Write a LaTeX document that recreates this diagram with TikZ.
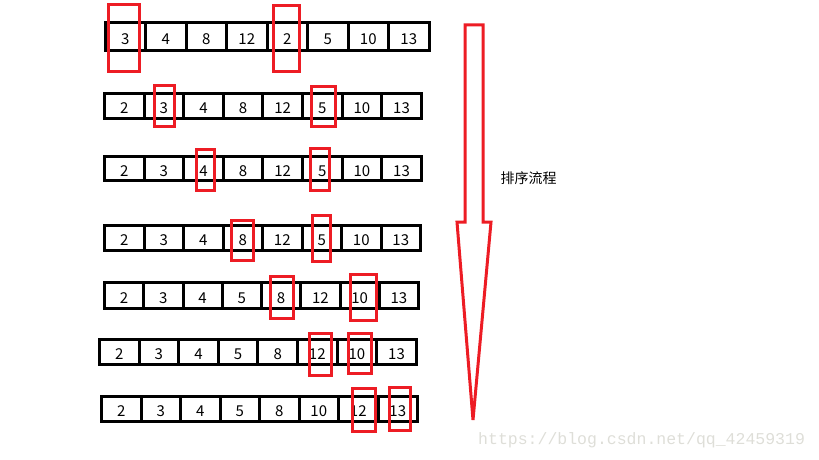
\documentclass[tikz,border=0pt]{standalone}
\usepackage{fontspec}
\setmainfont{Noto Sans CJK SC}
\newfontfamily\wmfont{Liberation Mono}
\usepackage{tikz}
\definecolor{paintred}{RGB}{237,28,36}
\definecolor{wmgray}{RGB}{222,222,216}

\begin{document}
\begin{tikzpicture}[x=1pt, y=-1pt,
    cell/.style={draw, line width=3pt, outer sep=0pt, inner sep=0pt,
                 text height=15pt, text depth=0pt, font=\fontsize{15}{15}\selectfont},
    hilite/.style={draw=paintred, line width=3pt, inner sep=0pt},
    flow/.style={draw=paintred, line width=3pt, line join=miter}]
    \useasboundingbox (0,0) rectangle (819,460);

    % Rows of the array {r1, r2, ..., r7}
    \foreach \v [count=\i] in {3,4,8,12,2,5,10,13}
        \node [cell, minimum width=40.5, minimum height=28]  (r1c\i) at (105+\i*40.5-20.25, 37)    {\v};
    \foreach \v [count=\i] in {2,3,4,8,12,5,10,13}
        \node [cell, minimum width=39.6, minimum height=25]  (r2c\i) at (104.5+\i*39.6-19.8, 106)  {\v};
    \foreach \v [count=\i] in {2,3,4,8,12,5,10,13}
        \node [cell, minimum width=39.6, minimum height=24]  (r3c\i) at (104.5+\i*39.6-19.8, 168.5) {\v};
    \foreach \v [count=\i] in {2,3,4,8,12,5,10,13}
        \node [cell, minimum width=39.5, minimum height=25]  (r4c\i) at (104.5+\i*39.5-19.75, 238) {\v};
    \foreach \v [count=\i] in {2,3,4,5,8,12,10,13}
        \node [cell, minimum width=39.25, minimum height=26] (r5c\i) at (104.5+\i*39.25-19.625, 295.5) {\v};
    \foreach \v [count=\i] in {2,3,4,5,8,12,10,13}
        \node [cell, minimum width=39.6, minimum height=25]  (r6c\i) at (99.5+\i*39.6-19.8, 352)   {\v};
    \foreach \v [count=\i] in {2,3,4,5,8,10,12,13}
        \node [cell, minimum width=39.5, minimum height=25]  (r7c\i) at (101.5+\i*39.5-19.75, 409) {\v};

    % Marked pairs
    \node [hilite, minimum width=31, minimum height=67] (h1a) at (124, 38)     {};
    \node [hilite, minimum width=26, minimum height=66] (h1b) at (286.5, 38.5) {};
    \node [hilite, minimum width=20, minimum height=41] (h2a) at (164.5, 106)  {};
    \node [hilite, minimum width=24, minimum height=40] (h2b) at (323.5, 106.5) {};
    \node [hilite, minimum width=18, minimum height=41] (h3a) at (205.5, 170)  {};
    \node [hilite, minimum width=19, minimum height=42] (h3b) at (320, 169.5)  {};
    \node [hilite, minimum width=22, minimum height=40] (h4a) at (242.5, 240.5) {};
    \node [hilite, minimum width=18, minimum height=46] (h4b) at (321.5, 238.5) {};
    \node [hilite, minimum width=23, minimum height=42] (h5a) at (282, 297.5)  {};
    \node [hilite, minimum width=26, minimum height=46] (h5b) at (363.5, 297.5) {};
    \node [hilite, minimum width=22, minimum height=42] (h6a) at (320.5, 354.5) {};
    \node [hilite, minimum width=23, minimum height=40] (h6b) at (360, 353.5)  {};
    \node [hilite, minimum width=23, minimum height=43] (h7a) at (364, 410)    {};
    \node [hilite, minimum width=21, minimum height=43] (h7b) at (400, 409)    {};

    % Big arrow and its label
    \draw [flow] (465,25) -- (483,25) -- (483,222) -- (491,222) -- (473,420)
                 -- (457,222) -- (465,222) -- cycle;
    \node [font=\fontsize{14}{14}\selectfont] (lbl) at (528.5,178) {排序流程};

    % Watermark
    \node [anchor=west, inner sep=0pt, text=wmgray, font=\wmfont\fontsize{16.5}{16.5}\selectfont]
          (wm) at (478,440) {https://blog.csdn.net/qq\_42459319};
\end{tikzpicture}
\end{document}
